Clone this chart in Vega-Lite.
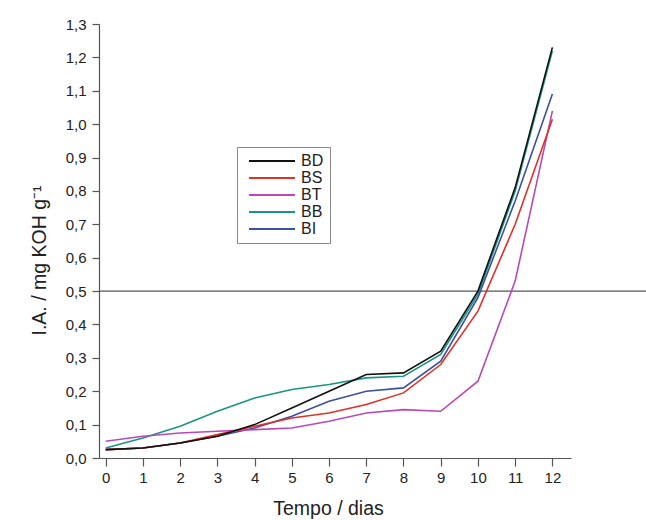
{
  "$schema": "https://vega.github.io/schema/vega-lite/v6.json",
  "width": 472,
  "height": 434,
  "autosize": {"type": "none"},
  "padding": {"left": 99, "top": 24, "right": 75, "bottom": 62},
  "background": "white",
  "config": {
    "view": {"stroke": null},
    "font": "Liberation Sans",
    "axis": {
      "domainColor": "#555555",
      "tickColor": "#555555",
      "labelColor": "#222222",
      "titleColor": "#222222",
      "labelFont": "Liberation Sans",
      "titleFont": "Liberation Sans",
      "labelFontSize": 15,
      "titleFontSize": 19.5,
      "titleFontWeight": "normal",
      "grid": false,
      "domainWidth": 1.2,
      "tickWidth": 1.2,
      "labelOverlap": false
    }
  },
  "datasets": {
    "series": [
      {"dia": 0, "serie": "BB", "ia": 0.030},
      {"dia": 1, "serie": "BB", "ia": 0.060},
      {"dia": 2, "serie": "BB", "ia": 0.095},
      {"dia": 3, "serie": "BB", "ia": 0.140},
      {"dia": 4, "serie": "BB", "ia": 0.180},
      {"dia": 5, "serie": "BB", "ia": 0.205},
      {"dia": 6, "serie": "BB", "ia": 0.220},
      {"dia": 7, "serie": "BB", "ia": 0.240},
      {"dia": 8, "serie": "BB", "ia": 0.245},
      {"dia": 9, "serie": "BB", "ia": 0.310},
      {"dia": 10, "serie": "BB", "ia": 0.490},
      {"dia": 11, "serie": "BB", "ia": 0.800},
      {"dia": 12, "serie": "BB", "ia": 1.220},
      {"dia": 0, "serie": "BI", "ia": 0.025},
      {"dia": 1, "serie": "BI", "ia": 0.030},
      {"dia": 2, "serie": "BI", "ia": 0.045},
      {"dia": 3, "serie": "BI", "ia": 0.065},
      {"dia": 4, "serie": "BI", "ia": 0.090},
      {"dia": 5, "serie": "BI", "ia": 0.125},
      {"dia": 6, "serie": "BI", "ia": 0.170},
      {"dia": 7, "serie": "BI", "ia": 0.200},
      {"dia": 8, "serie": "BI", "ia": 0.210},
      {"dia": 9, "serie": "BI", "ia": 0.290},
      {"dia": 10, "serie": "BI", "ia": 0.480},
      {"dia": 11, "serie": "BI", "ia": 0.770},
      {"dia": 12, "serie": "BI", "ia": 1.090},
      {"dia": 0, "serie": "BT", "ia": 0.050},
      {"dia": 1, "serie": "BT", "ia": 0.065},
      {"dia": 2, "serie": "BT", "ia": 0.075},
      {"dia": 3, "serie": "BT", "ia": 0.080},
      {"dia": 4, "serie": "BT", "ia": 0.085},
      {"dia": 5, "serie": "BT", "ia": 0.090},
      {"dia": 6, "serie": "BT", "ia": 0.110},
      {"dia": 7, "serie": "BT", "ia": 0.135},
      {"dia": 8, "serie": "BT", "ia": 0.145},
      {"dia": 9, "serie": "BT", "ia": 0.140},
      {"dia": 10, "serie": "BT", "ia": 0.230},
      {"dia": 11, "serie": "BT", "ia": 0.530},
      {"dia": 12, "serie": "BT", "ia": 1.040},
      {"dia": 0, "serie": "BS", "ia": 0.025},
      {"dia": 1, "serie": "BS", "ia": 0.030},
      {"dia": 2, "serie": "BS", "ia": 0.045},
      {"dia": 3, "serie": "BS", "ia": 0.070},
      {"dia": 4, "serie": "BS", "ia": 0.095},
      {"dia": 5, "serie": "BS", "ia": 0.120},
      {"dia": 6, "serie": "BS", "ia": 0.135},
      {"dia": 7, "serie": "BS", "ia": 0.160},
      {"dia": 8, "serie": "BS", "ia": 0.195},
      {"dia": 9, "serie": "BS", "ia": 0.280},
      {"dia": 10, "serie": "BS", "ia": 0.440},
      {"dia": 11, "serie": "BS", "ia": 0.700},
      {"dia": 12, "serie": "BS", "ia": 1.015},
      {"dia": 0, "serie": "BD", "ia": 0.025},
      {"dia": 1, "serie": "BD", "ia": 0.030},
      {"dia": 2, "serie": "BD", "ia": 0.045},
      {"dia": 3, "serie": "BD", "ia": 0.065},
      {"dia": 4, "serie": "BD", "ia": 0.100},
      {"dia": 5, "serie": "BD", "ia": 0.150},
      {"dia": 6, "serie": "BD", "ia": 0.200},
      {"dia": 7, "serie": "BD", "ia": 0.250},
      {"dia": 8, "serie": "BD", "ia": 0.255},
      {"dia": 9, "serie": "BD", "ia": 0.320},
      {"dia": 10, "serie": "BD", "ia": 0.500},
      {"dia": 11, "serie": "BD", "ia": 0.810},
      {"dia": 12, "serie": "BD", "ia": 1.230}
    ],
    "limite": [{"ia": 0.5, "dia": -0.18, "dia2": 14.6}]
  },
  "encoding": {
    "x": {
      "field": "dia",
      "type": "quantitative",
      "scale": {"domain": [-0.18, 12.5], "nice": false, "zero": false},
      "axis": {
        "title": "Tempo / dias",
        "values": [0, 1, 2, 3, 4, 5, 6, 7, 8, 9, 10, 11, 12],
        "tickSize": 8,
        "labelPadding": 4,
        "titlePadding": 14,
        "titleX": 229
      }
    },
    "y": {
      "field": "ia",
      "type": "quantitative",
      "scale": {"domain": [0, 1.3], "nice": false},
      "axis": {
        "title": "I.A. / mg KOH g⁻¹",
        "values": [0, 0.1, 0.2, 0.3, 0.4, 0.5, 0.6, 0.7, 0.8, 0.9, 1.0, 1.1, 1.2, 1.3],
        "labelExpr": "replace(format(datum.value, '.1f'), '.', ',')",
        "tickSize": 7,
        "labelPadding": 6,
        "titlePadding": 16,
        "titleY": 236
      }
    }
  },
  "layer": [
    {
      "data": {"name": "limite"},
      "mark": {"type": "rule", "color": "#555555", "strokeWidth": 1.2, "clip": false},
      "encoding": {
        "x2": {"field": "dia2"}
      }
    },
    {
      "data": {"name": "series"},
      "mark": {"type": "line", "strokeWidth": 1.6},
      "encoding": {
        "color": {
          "field": "serie",
          "type": "nominal",
          "scale": {
            "domain": ["BD", "BS", "BT", "BB", "BI"],
            "range": ["#111111", "#e03028", "#b848b8", "#1a9484", "#3a50a0"]
          },
          "legend": {
            "title": null,
            "orient": "none",
            "legendX": 138,
            "legendY": 123,
            "symbolType": "stroke",
            "symbolSize": 2116,
            "symbolStrokeWidth": 2,
            "clipHeight": 16,
            "symbolOffset": 5,
            "labelFontSize": 16,
            "labelFont": "Liberation Sans",
            "labelColor": "#222222",
            "labelOffset": 5,
            "rowPadding": 1,
            "padding": 6,
            "strokeColor": "#888888",
            "fillColor": "white",
            "cornerRadius": 0
          }
        }
      }
    }
  ]
}
